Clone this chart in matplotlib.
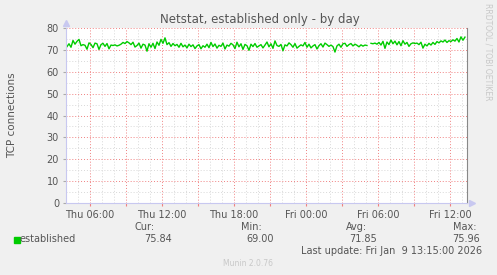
import numpy as np
import matplotlib
matplotlib.use('Agg')
import matplotlib.pyplot as plt
from matplotlib.ticker import MultipleLocator, FixedLocator

# 10 minute samples, hours since Thu 00:00
start_hour = 37.25 - 199 / 6
established = [
    71.5, 72.8, 71.2, 74.3, 72.6, 73.9, 74.8, 71.9, 72.4, 72.1, 70.3, 73.2,
    72.5, 71.0, 73.1, 72.8, 70.2, 72.4, 73.0, 71.6, 72.9, 70.5, 72.2, 72.0,
    72.3, 71.8, 72.1, 72.6, 73.4, 72.9, 73.8, 73.2, 72.4, 73.5, 71.3, 72.0,
    73.1, 70.8, 72.6, 72.2, 69.4, 72.8, 71.2, 73.0, 70.6, 73.6, 72.1, 74.8,
    73.0, 75.5, 72.4, 73.3, 71.6, 72.9, 71.9, 72.5, 71.2, 73.0, 71.4, 72.2,
    70.9, 72.6, 71.5, 72.3, 70.6, 71.8, 72.4, 70.5, 71.9, 71.2, 72.6, 71.0,
    73.4, 71.5, 72.7, 70.8, 72.1, 71.6, 73.1, 70.4, 72.2, 71.7, 73.0, 72.3,
    70.6, 73.5, 71.4, 72.8, 70.2, 72.5, 71.9, 69.8, 72.6, 71.5, 72.9, 71.2,
    71.8, 72.4, 70.9, 72.2, 73.6, 71.4, 72.8, 70.7, 74.1, 72.0, 71.6, 72.5,
    69.6, 72.3, 71.8, 73.2, 72.4, 71.2, 72.9, 70.8, 71.6, 72.3, 71.8, 73.4,
    71.2, 72.6, 70.9, 71.8, 72.4, 70.4, 71.9, 72.8, 71.3, 73.1, 72.4, 71.6,
    72.2, 71.5, 69.0, 71.8, 72.6, 71.2, 72.8, 73.0, 71.6, 72.4, 72.9, 71.8,
    72.6, 72.1, 71.4, 72.3, 71.7, 72.2, 72.0, np.nan, 73.0, 72.8, 73.1, 72.6,
    73.4, 72.2, 73.9, 70.7, 73.6, 72.4, 74.5, 72.8, 74.0, 72.3, 73.8, 71.9,
    74.2, 72.6, 73.4, 71.6, 72.8, 73.2, 72.9, 73.1, 72.4, 73.5, 70.8, 72.6,
    71.8, 73.0, 72.2, 73.4, 72.5, 73.8, 73.2, 74.1, 73.6, 74.5, 73.4, 74.2,
    73.8, 74.6, 74.0, 75.2, 73.6, 75.96, 74.4, 75.84,
]
hours = start_hour + np.arange(len(established)) / 6

tick_hours = [6, 12, 18, 24, 30, 36]
tick_labels = ['Thu 06:00', 'Thu 12:00', 'Thu 18:00',
               'Fri 00:00', 'Fri 06:00', 'Fri 12:00']
legend_names = ['Cur:', 'Min:', 'Avg:', 'Max:']
legend_values = [75.84, 69.00, 71.85, 75.96]

txt = '#555555'
bg = '#f0f0f0'

fig = plt.figure(figsize=(4.97, 2.75), dpi=100, facecolor=bg)
ax = fig.add_axes([66 / 497, 1 - 203 / 275, 401 / 497, 175 / 275])
ax.set_facecolor('white')

ax.set_xlim(4.0, 37.42)
ax.set_ylim(0, 80)

ax.xaxis.set_major_locator(MultipleLocator(3))
ax.xaxis.set_minor_locator(MultipleLocator(1))
ax.yaxis.set_major_locator(MultipleLocator(10))
ax.yaxis.set_minor_locator(MultipleLocator(5))
ax.grid(which='minor', color='#d8d8d8', linestyle=(0, (1, 2)), linewidth=0.7)
ax.grid(which='major', color='#f08080', linestyle=(0, (1, 2)), linewidth=0.7)
ax.set_axisbelow(True)

# only every other major x tick gets a label
ax.set_xticks(np.arange(6, 37, 3))
ax.set_xticklabels([tick_labels[tick_hours.index(h)] if h in tick_hours else ''
                    for h in np.arange(6, 37, 3)])
ax.tick_params(axis='x', which='major', colors='#f08080', length=2,
               labelcolor=txt, labelsize=7, pad=3)
ax.tick_params(axis='x', which='minor', length=0)
ax.tick_params(axis='y', which='major', colors='#aaaaaa', length=2,
               labelcolor=txt, labelsize=7, pad=3)
ax.tick_params(axis='y', which='minor', length=0)

ax.plot(hours, established, color='#00cc00', linewidth=1.0)

for s in ['top']:
    ax.spines[s].set_visible(False)
ax.spines['left'].set_color('#c8c8f0')
ax.spines['bottom'].set_color('#c8c8f0')
ax.spines['right'].set_color('#888888')
ax.spines['left'].set_linewidth(0.8)
ax.spines['bottom'].set_linewidth(0.8)
ax.plot([0], [1.03], marker='^', color='#c8c8f0', markersize=4,
        transform=ax.transAxes, clip_on=False)
ax.plot([1.012], [0], marker='>', color='#c8c8f0', markersize=4,
        transform=ax.transAxes, clip_on=False)

fig.text(260 / 497, 1 - 20 / 275, 'Netstat, established only - by day',
         ha='center', va='center', fontsize=8.5, color=txt)
fig.text(12 / 497, 1 - 115 / 275, 'TCP connections', rotation=90,
         ha='center', va='center', fontsize=7.5, color=txt)
fig.text(488 / 497, 1 - 52 / 275, 'RRDTOOL / TOBI OETIKER', rotation=270,
         ha='center', va='center', fontsize=5.5, color='#c8c8c8')

# legend block
fig.patches.append(plt.Rectangle((14 / 497, 1 - 243 / 275), 6 / 497, 6 / 275,
                                 transform=fig.transFigure, color='#00cc00'))
fig.text(20 / 497, 1 - 239 / 275, 'established', ha='left', va='center',
         fontsize=7, color=txt)
name_x = [155, 262, 367, 477]
value_x = [172, 274, 377, 480]
for name, val, nx, vx in zip(legend_names, legend_values, name_x, value_x):
    fig.text(nx / 497, 1 - 227 / 275, name, ha='right', va='center',
             fontsize=7, color=txt)
    fig.text(vx / 497, 1 - 239 / 275, f'{val:.2f}', ha='right', va='center',
             fontsize=7, color=txt)
fig.text(482 / 497, 1 - 251 / 275, 'Last update: Fri Jan  9 13:15:00 2026',
         ha='right', va='center', fontsize=7, color=txt)
fig.text(248 / 497, 1 - 263 / 275, 'Munin 2.0.76', ha='center', va='center',
         fontsize=5.5, color='#c8c8c8')

fig.savefig('out.png', dpi=100, facecolor=bg)
